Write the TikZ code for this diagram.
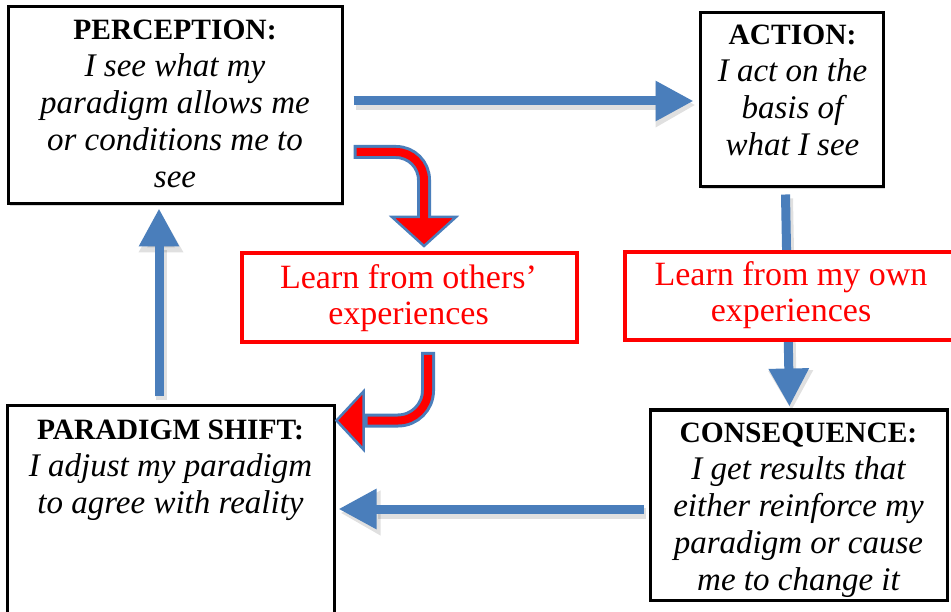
\documentclass[tikz,border=0pt]{standalone}
\usepackage{fontspec}
\setmainfont{Liberation Serif}
\usetikzlibrary{arrows.meta,calc,shadows}
\definecolor{arrowblue}{RGB}{74,126,187}
\definecolor{learnred}{RGB}{255,0,0}
\newcommand{\boxhead}[1]{{\fontsize{29.5}{37}\selectfont\bfseries\upshape\rule{0pt}{25pt}#1}}
\newcommand{\redfirst}{\rule{0pt}{25pt}}
\begin{document}
\begin{tikzpicture}[x=1pt,y=-1pt,
  blackbox/.style={draw=black, line width=3pt, fill=white, inner sep=0pt, rectangle,
    drop shadow={shadow xshift=2pt, shadow yshift=-2pt, opacity=0.3}},
  redbox/.style={draw=learnred, line width=4pt, fill=white, inner sep=0pt, rectangle},
  boxtext/.style={anchor=north, align=center, inner sep=0pt, font=\fontsize{33}{37}\selectfont\itshape},
  redtext/.style={anchor=north, align=center, inner sep=0pt, text=learnred, font=\fontsize{34}{36}\selectfont},
  bluearrow/.style={draw=arrowblue, line width=9pt, -{Triangle[length=38pt,width=38pt]}},
  arrowshadow/.style={draw=black, opacity=0.12, line width=11pt, -{Triangle[length=40pt,width=42pt]},
    transform canvas={xshift=2pt,yshift=-4pt}},
  redouter/.style={draw=arrowblue, line width=14pt},
  redinner/.style={draw=learnred, line width=8pt},
  redhead/.style={fill=learnred, draw=arrowblue, line width=2.5pt, line join=miter},
]
\useasboundingbox (0,0) rectangle (951,612);

% black boxes
\node[blackbox, minimum width=334pt, minimum height=197pt] (perc) at (175,105.5) {};
\node[blackbox, minimum width=183pt, minimum height=174pt] (act) at (791.5,100) {};
\node[blackbox, minimum width=297pt, minimum height=190pt] (cons) at (798.5,505) {};
\node[blackbox, minimum width=327pt, minimum height=216pt] (para) at (170.5,514) {};

\node[boxtext] (perc-t) at ($(perc.north)+(0,9)$)
  {\boxhead{PERCEPTION:}\\I see what my\\paradigm allows me\\or conditions me to\\see};
\node[boxtext] (act-t) at ($(act.north)+(1,8)$)
  {\boxhead{ACTION:}\\I act on the\\basis of\\what I see};
\node[boxtext] (cons-t) at ($(cons.north)+(0,9)$)
  {\boxhead{CONSEQUENCE:}\\I get results that\\either reinforce my\\paradigm or cause\\me to change it};
\node[boxtext] (para-t) at ($(para.north)+(0,10)$)
  {\boxhead{PARADIGM SHIFT:}\\I adjust my paradigm\\to agree with reality};

% blue arrows
\coordinate (a1) at ($(perc.east |- act.west)+(10,1)$);
\coordinate (a2) at ($(act.west)+(-5,1)$);
\coordinate (d1) at ($(act.south)+(-6,6)$);
\coordinate (d2) at ($(cons.north)+(-9,-2)$);
\coordinate (l1) at ($(cons.west)+(-5,4)$);
\coordinate (l0) at (l1 -| para.east);
\coordinate (l2) at ($(l0)+(3,0)$);
\coordinate (u1) at ($(para.north)+(-11.5,-8)$);
\coordinate (u2) at ($(perc.south)+(-16,3)$);

\draw[arrowshadow] (a1) -- (a2);
\draw[arrowshadow] (d1) -- (d2);
\draw[arrowshadow] (l1) -- (l2);
\draw[arrowshadow] (u1) -- (u2);
\draw[bluearrow] (a1) -- (a2);
\draw[bluearrow] (d1) -- (d2);
\draw[bluearrow] (l1) -- (l2);
\draw[bluearrow] (u1) -- (u2);

% red boxes
\node[redbox, minimum width=335pt, minimum height=89pt] (oth) at (409.5,297.5) {};
\node[redbox, minimum width=332pt, minimum height=88pt] (own) at (791,296) {};
\node[redtext] (oth-t) at ($(oth.north)+(-1,12)$) {\redfirst Learn from others’\\experiences};
\node[redtext] (own-t) at ($(own.north)+(0,10)$) {\redfirst Learn from my own\\experiences};

% red curved arrow: perception -> learn from others
\coordinate (r1s) at ($(perc.east)+(10,46.5)$);
\coordinate (r1t) at ($(oth.north)+(14.5,-5)$);
\coordinate (r1b) at ($(r1t)+(0,-29)$);
\draw[redouter, rounded corners=28pt] (r1s) -- (r1s -| r1t) -- ($(r1b)+(0,2)$);
\filldraw[redhead] ($(r1b)+(-32,0)$) -- (r1t) -- ($(r1b)+(32,0)$) -- cycle;
\draw[redinner, rounded corners=28pt] ($(r1s)+(3,0)$) -- (r1s -| r1t) -- ($(r1b)+(0,4)$);

% red curved arrow: learn from others -> paradigm shift
\coordinate (r2s) at ($(oth.south)+(18.5,8)$);
\coordinate (r2t) at ($(para.north east)+(1,16)$);
\coordinate (r2b) at ($(r2t)+(27,0)$);
\draw[redouter, rounded corners=30pt] (r2s) -- (r2s |- r2t) -- ($(r2b)+(-2,0)$);
\filldraw[redhead] ($(r2b)+(0,-29)$) -- (r2t) -- ($(r2b)+(0,29)$) -- cycle;
\draw[redinner, rounded corners=30pt] ($(r2s)+(0,3)$) -- (r2s |- r2t) -- ($(r2b)+(4,0)$);
\end{tikzpicture}
\end{document}
